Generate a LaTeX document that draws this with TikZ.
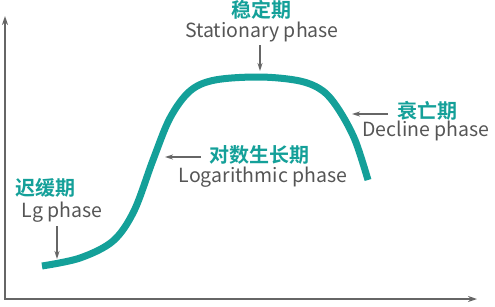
\documentclass[tikz,border=0pt]{standalone}
\usepackage{fontspec}
\setmainfont{Noto Sans CJK SC}
\newfontfamily\cjkb{Noto Sans CJK SC Bold}
\usetikzlibrary{arrows.meta}
\definecolor{teal1}{HTML}{14A099}
\definecolor{txtgray}{HTML}{555555}
\definecolor{axgray}{HTML}{666666}
\tikzset{
  cn/.style={font=\cjkb\fontsize{20}{20}\selectfont, text=teal1, inner sep=0pt, text height=14pt, text depth=1pt},
  en/.style={font=\fontsize{19.5}{19.5}\selectfont, text=txtgray, inner sep=0pt, text height=12pt, text depth=3pt},
  ax/.style={draw=axgray, line width=2pt, -{Stealth[length=9pt,width=6pt]}},
  pt/.style={draw=axgray, line width=1.5pt, -{Stealth[length=8pt,width=5pt]}},
}
\begin{document}
\begin{tikzpicture}[x=1pt,y=-1pt]
\useasboundingbox (0,0) rectangle (495,306);
% axes
\coordinate (o) at (5,299);
\coordinate (ytop) at (5,16);
\coordinate (xend) at (477,299);
\draw[ax] (o) -- (ytop);
\draw[ax] (4,299) -- (xend);
% curve
\draw[teal1, line width=7pt] plot[smooth, tension=0.55] coordinates
 {(42,266) (80,258) (113,241) (134,211) (153,160) (170,118) (190,91) (215,80) (260,77) (300,81) (323,91) (339,110) (355,140) (368,180)};
% labels
\node[cn] (stc) at (261,11) {稳定期};
\node[en] (ste) at (262,33) {Stationary phase};
\coordinate (sta1) at (260,45);
\coordinate (sta2) at (260,71);
\draw[pt] (sta1) -- (sta2);
\node[cn] (loc) at (259,156) {对数生长期};
\node[en] (loe) at (263,178) {Logarithmic phase};
\coordinate (loa1) at (201,157);
\coordinate (loa2) at (165,157);
\draw[pt] (loa1) -- (loa2);
\node[cn] (dec) at (427,112) {衰亡期};
\node[en] (dee) at (426,132) {Decline phase};
\coordinate (dea1) at (388,114);
\coordinate (dea2) at (352,114);
\draw[pt] (dea1) -- (dea2);
\node[cn] (lgc) at (45,189) {迟缓期};
\node[en] (lge) at (62,213) {Lg phase};
\coordinate (lga1) at (57,226);
\coordinate (lga2) at (57,259);
\draw[pt] (lga1) -- (lga2);
\end{tikzpicture}
\end{document}
